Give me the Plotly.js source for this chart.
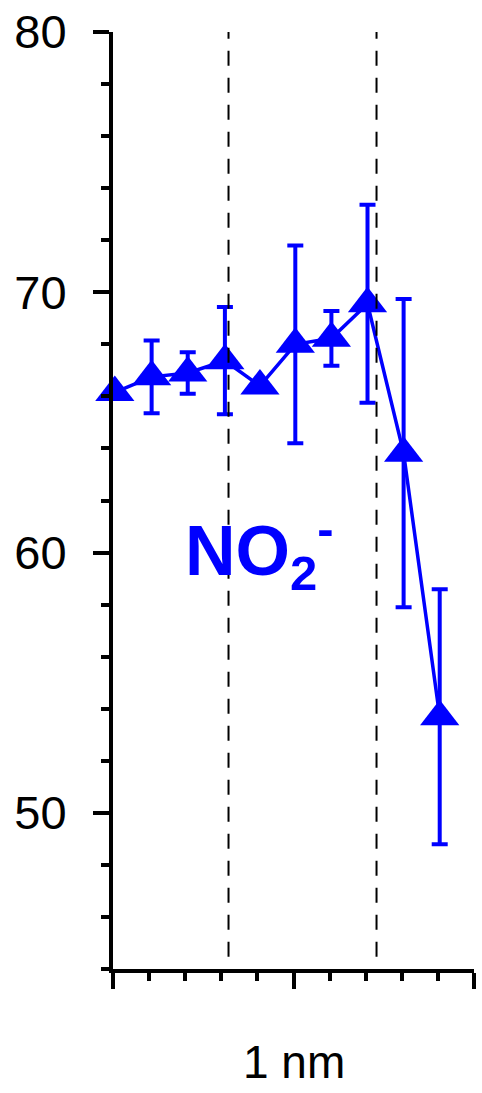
<!DOCTYPE html>
<html>
<head>
<meta charset="utf-8">
<script src="https://cdn.plot.ly/plotly-3.0.1.min.js"></script>
<style>html,body{margin:0;padding:0;background:#fff;}#chart{width:482px;height:1093px;}</style>
</head>
<body>
<div id="chart"></div>
<script>
// Position along the scale (minor tick units, 5 units = 1 nm)
const positions = [0.05, 1.07, 2.07, 3.1, 4.07, 5.05, 6.05, 7.05, 8.05, 9.05];
const values    = [66.15, 66.75, 66.9, 67.37, 66.4, 68.0, 68.23, 69.56, 63.82, 53.69];
const errors    = [0, 1.4, 0.8, 2.06, 0, 3.8, 1.05, 3.8, 5.92, 4.9];
const dividers  = [3.2, 7.3];
const seriesLabel = "NO<sub>2</sub><sup>-</sup>";
const scaleLabel = "1 nm";
const blue = "#0000ff";

const trace = {
  x: positions, y: values, type: "scatter", mode: "lines+markers",
  line: {color: blue, width: 3.5},
  marker: {symbol: "triangle-up", size: 34, color: blue},
  error_y: {type: "data", array: errors, visible: true, color: blue, thickness: 4, width: 8},
  cliponaxis: false, showlegend: false
};

const shapes = dividers.map(d => ({
  type: "line", xref: "x", yref: "paper", x0: d, x1: d, y0: 0.013, y1: 1,
  line: {color: "black", width: 2, dash: "15px,12px"}
}));

const layout = {
  width: 482, height: 1093,
  margin: {l: 113, r: 8, t: 32, b: 124},
  paper_bgcolor: "white", plot_bgcolor: "white",
  font: {family: "Liberation Sans, Arial, sans-serif", color: "black"},
  xaxis: {
    range: [0, 10], showgrid: false, zeroline: false,
    showline: true, linecolor: "black", linewidth: 4,
    ticks: "outside", tick0: 0, dtick: 5, ticklen: 16, tickwidth: 4, tickcolor: "black",
    showticklabels: false,
    minor: {dtick: 1, ticks: "outside", ticklen: 8, tickwidth: 4, tickcolor: "black", showgrid: false}
  },
  yaxis: {
    range: [44, 80], showgrid: false, zeroline: false,
    showline: true, linecolor: "black", linewidth: 4,
    ticks: "outside", tick0: 0, dtick: 10, ticklen: 16, tickwidth: 4, tickcolor: "black",
    tickfont: {size: 47, family: "Liberation Sans, Arial, sans-serif", color: "black"},
    ticklabelstandoff: 17,
    minor: {dtick: 2, ticks: "outside", ticklen: 8, tickwidth: 4, tickcolor: "black", showgrid: false}
  },
  shapes: shapes,
  annotations: [
    {x: 1.94, y: 60.05, xref: "x", yref: "y", xanchor: "left", yanchor: "middle",
     text: "<b>" + seriesLabel + "</b>", showarrow: false,
     font: {size: 70, color: blue, family: "Liberation Sans, Arial, sans-serif"}},
    {x: 5, y: -(1062 - 969) / (969 - 32), xref: "x", yref: "paper", yanchor: "middle",
     showarrow: false, text: scaleLabel,
     font: {size: 46, color: "black", family: "Liberation Sans, Arial, sans-serif"}}
  ]
};

Plotly.newPlot("chart", [trace], layout, {staticPlot: true, displayModeBar: false});
</script>
</body>
</html>
